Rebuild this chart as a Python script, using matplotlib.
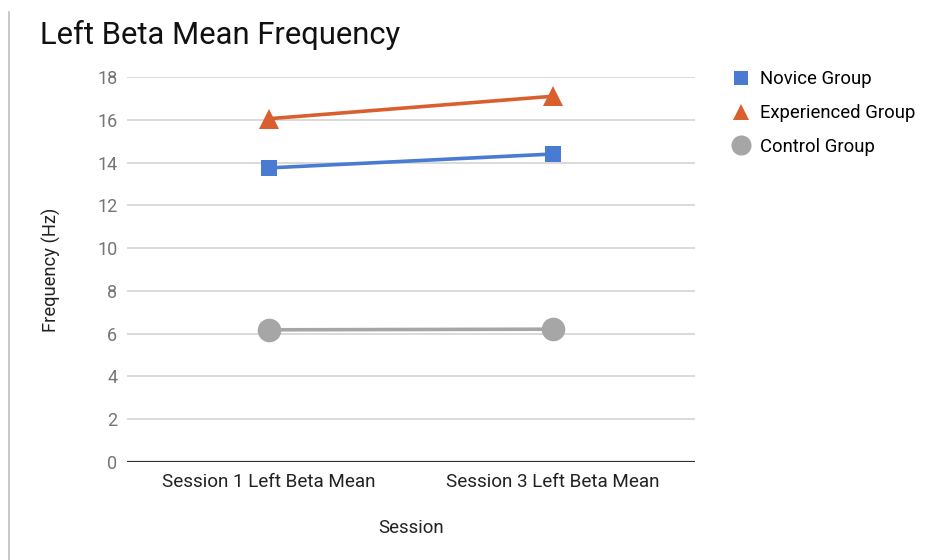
import matplotlib
matplotlib.use("Agg")
import matplotlib.pyplot as plt
from matplotlib.lines import Line2D

plt.rcParams['font.family'] = ['Roboto', 'DejaVu Sans']

sessions = ["Session 1 Left Beta Mean", "Session 3 Left Beta Mean"]
novice = [13.75, 14.4]
experienced = [16.05, 17.1]
control = [6.18, 6.21]
yticks = [0, 2, 4, 6, 8, 10, 12, 14, 16, 18]

series = [
    ("Novice Group", novice, "#4a7bd2", "s", 12),
    ("Experienced Group", experienced, "#d9602e", "^", 14),
    ("Control Group", control, "#a6a6a6", "o", 17),
]

fig = plt.figure(figsize=(9.31, 5.60), dpi=100)
ax = fig.add_axes([0.1364, 0.175, 0.6101, 0.6875])

x = list(range(len(sessions)))
for name, vals, color, marker, ms in series:
    ax.plot(x, vals, color=color, lw=2.6, marker=marker, ms=ms,
            markeredgewidth=0, zorder=3, clip_on=False)

ax.set_xlim(-0.5, len(sessions) - 0.5)
ax.set_ylim(0, 18)
ax.set_yticks(yticks)
ax.set_yticklabels([str(t) for t in yticks])
ax.set_xticks(x)
ax.set_xticklabels(sessions)
ax.grid(axis="y", color="#d0d0d0", lw=1.1, zorder=0)
ax.axhline(0, color="#333333", lw=1.6, zorder=2)
for s in ax.spines.values():
    s.set_visible(False)
ax.tick_params(axis="y", length=0, pad=7, labelsize=13, labelcolor="#757575")
ax.tick_params(axis="x", length=0, pad=8, labelsize=13.6, labelcolor="#222222")

ax.set_ylabel("Frequency (Hz)", fontsize=13.2, color="#222222", labelpad=26)
ax.set_xlabel("Session", fontsize=13.4, color="#222222", labelpad=20)

fig.text(0.043, 0.922, "Left Beta Mean Frequency", fontsize=22.3,
         color="#111111", ha="left", va="baseline")

handles = [Line2D([], [], ls="none", marker=m, color=c, ms=ms * 0.85,
                  markeredgewidth=0) for _, _, c, m, ms in series]
fig.legend(handles, [s[0] for s in series], loc="upper left",
           bbox_to_anchor=(0.776, 0.888), frameon=False, fontsize=13.3,
           handletextpad=0.45, labelspacing=0.86, borderaxespad=0,
           handlelength=1.2)

# thin vertical rule at the left edge
fig.add_artist(Line2D([0.0097, 0.0097], [0.0, 0.978], color="#bdbdbd", lw=1.2,
                      transform=fig.transFigure))

fig.savefig("out.png", dpi=100, facecolor="white")
